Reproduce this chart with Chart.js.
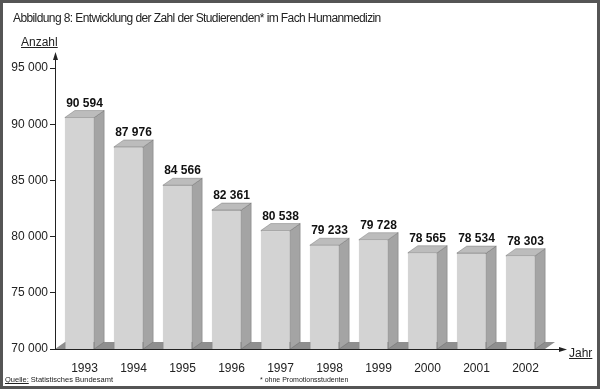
<!DOCTYPE html>
<html>
<head>
<meta charset="utf-8">
<script src="https://cdn.jsdelivr.net/npm/chart.js@4"></script>
<style>
    html, body { margin: 0; padding: 0; background: #fff; }
    #wrap { position: relative; width: 600px; height: 389px; font-family: "Liberation Sans", Arial, sans-serif; color: #222; }
    #frame { position: absolute; left: 0; top: 0; width: 600px; height: 389px; box-sizing: border-box; border: 3px solid #555; pointer-events: none; }
    canvas { position: absolute; left: 0; top: 0; }
    .txt { position: absolute; white-space: nowrap; line-height: 1; }
    #title { left: 13px; top: 12px; font-size: 12px; letter-spacing: -0.6px; }
    #yname { left: 21px; top: 36px; font-size: 12px; text-decoration: underline; }
    #xname { left: 569px; top: 347px; font-size: 12px; text-decoration: underline; }
    #source { left: 5px; top: 376px; font-size: 7.5px; }
    #note { left: 260px; top: 376px; font-size: 7px; }
</style>
</head>
<body>
<div id="wrap">
    <canvas id="chart" width="600" height="389"></canvas>
    <div class="txt" id="title">Abbildung 8: Entwicklung der Zahl der Studierenden* im Fach Humanmedizin</div>
    <div class="txt" id="yname">Anzahl</div>
    <div class="txt" id="xname">Jahr</div>
    <div class="txt" id="source"><u>Quelle:</u> Statistisches Bundesamt</div>
    <div class="txt" id="note">* ohne Promotionsstudenten</div>
    <div id="frame"></div>
</div>
<script>
const years = ['1993', '1994', '1995', '1996', '1997', '1998', '1999', '2000', '2001', '2002'];
const students = [90594, 87976, 84566, 82361, 80538, 79233, 79728, 78565, 78534, 78303];
const yTicks = [70000, 75000, 80000, 85000, 90000, 95000];

const DX = 10;
const DY = 7;
const fmt = (n) => String(n).replace(/\B(?=(\d{3})+(?!\d))/g, ' ');

const poly = (ctx, pts, fill) => {
    ctx.beginPath();
    ctx.moveTo(pts[0][0], pts[0][1]);
    pts.slice(1).forEach(p => ctx.lineTo(p[0], p[1]));
    ctx.closePath();
    ctx.fillStyle = fill;
    ctx.fill();
    ctx.strokeStyle = 'rgba(90, 90, 90, 0.6)';
    ctx.lineWidth = 0.6;
    ctx.stroke();
};

const bar3d = {
    id: 'bar3d',
    beforeDatasetsDraw(chart) {
        const { ctx, chartArea: a } = chart;
        ctx.save();
        ctx.beginPath();
        ctx.moveTo(a.left, a.bottom);
        ctx.lineTo(a.right, a.bottom);
        ctx.lineTo(a.right + DX, a.bottom - DY);
        ctx.lineTo(a.left + DX, a.bottom - DY);
        ctx.closePath();
        ctx.fillStyle = '#8f8f8f';
        ctx.fill();
        ctx.restore();
    },
    afterDatasetsDraw(chart) {
        const { ctx, chartArea: a } = chart;
        const meta = chart.getDatasetMeta(0);
        ctx.save();
        meta.data.forEach((bar, i) => {
            const { x, y, base, width } = bar.getProps(['x', 'y', 'base', 'width'], true);
            const b = Math.min(base, a.bottom);
            const l = x - width / 2;
            const r = x + width / 2;
            poly(ctx, [[r, y], [r + DX, y - DY], [r + DX, b - DY], [r, b]], '#a4a4a4');
            poly(ctx, [[l, y], [r, y], [r + DX, y - DY], [l + DX, y - DY]], '#bcbcbc');
            ctx.fillStyle = '#111';
            ctx.font = 'bold 12px "Liberation Sans", Arial, sans-serif';
            ctx.textAlign = 'center';
            ctx.textBaseline = 'alphabetic';
            ctx.fillText(fmt(students[i]), x + DX / 2, y - DY - 4);
        });
        ctx.restore();
    },
    afterDraw(chart) {
        const { ctx, chartArea: a } = chart;
        ctx.save();
        ctx.strokeStyle = '#222';
        ctx.fillStyle = '#222';
        ctx.lineWidth = 1;
        ctx.beginPath();
        ctx.moveTo(a.left + 0.5, a.bottom);
        ctx.lineTo(a.left + 0.5, 58);
        ctx.moveTo(a.left, a.bottom + 0.5);
        ctx.lineTo(a.right + 16, a.bottom + 0.5);
        ctx.stroke();
        ctx.beginPath();
        ctx.moveTo(a.left + 0.5, 52);
        ctx.lineTo(a.left - 2, 60);
        ctx.lineTo(a.left + 3, 60);
        ctx.closePath();
        ctx.fill();
        ctx.beginPath();
        ctx.moveTo(a.right + 22, a.bottom + 0.5);
        ctx.lineTo(a.right + 14, a.bottom - 2);
        ctx.lineTo(a.right + 14, a.bottom + 3);
        ctx.closePath();
        ctx.fill();
        ctx.restore();
    }
};

new Chart(document.getElementById('chart').getContext('2d'), {
    type: 'bar',
    data: {
        labels: years,
        datasets: [
            {
                data: students,
                backgroundColor: '#d3d3d3',
                borderColor: 'rgba(90, 90, 90, 0.6)',
                borderWidth: 0.6,
                barPercentage: 0.6,
                categoryPercentage: 1,
            },
        ],
    },
    options: {
        responsive: false,
        animation: false,
        devicePixelRatio: 1,
        layout: {
            padding: { left: 0, top: 68, right: 55, bottom: 0 },
        },
        plugins: {
            legend: { display: false },
            tooltip: { enabled: false },
        },
        scales: {
            x: {
                afterFit: (s) => { s.height = 40; },
                grid: { display: false },
                border: { display: true, color: '#222' },
                ticks: {
                    color: '#222',
                    font: { family: '"Liberation Sans", Arial, sans-serif', size: 12 },
                    labelOffset: 5,
                    padding: 4,
                    maxRotation: 0,
                },
            },
            y: {
                min: 70000,
                max: 95000,
                afterFit: (s) => { s.width = 55; },
                afterBuildTicks: (s) => { s.ticks = yTicks.map(v => ({ value: v })); },
                grid: { drawOnChartArea: false, tickLength: 5, color: '#222' },
                border: { display: true, color: '#222' },
                ticks: {
                    color: '#222',
                    padding: 2,
                    font: { family: '"Liberation Sans", Arial, sans-serif', size: 12 },
                    callback: (v) => fmt(v),
                },
            },
        },
    },
    plugins: [bar3d],
});
</script>
</body>
</html>
